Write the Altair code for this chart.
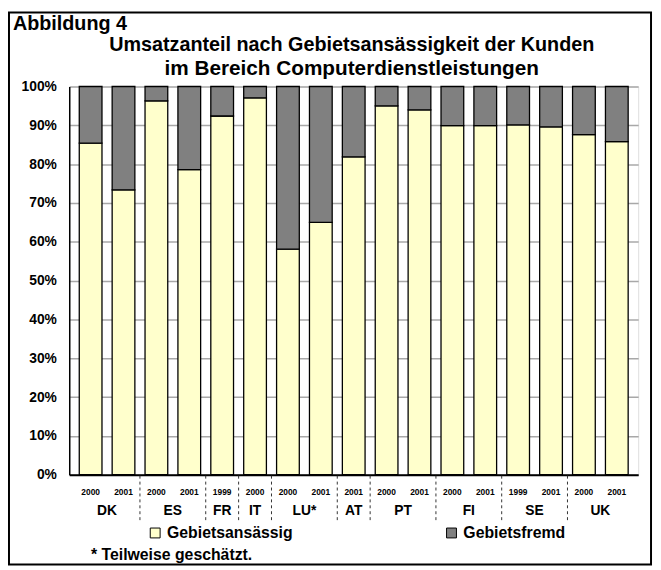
import altair as alt
import pandas as pd

countries = ["DK", "DK", "ES", "ES", "FR", "IT", "LU*", "LU*", "AT", "PT", "PT",
             "FI", "FI", "SE", "SE", "UK", "UK"]
years = ["2000", "2001", "2000", "2001", "1999", "2000", "2000", "2001", "2001",
         "2000", "2001", "2000", "2001", "1999", "2001", "2000", "2001"]
resident = [85.4, 73.4, 96.3, 78.6, 92.4, 97.1, 58.1, 65.0, 81.9, 95.0, 94.0,
            89.9, 89.9, 90.1, 89.6, 87.6, 85.8]
nonresident = [14.6, 26.6, 3.7, 21.4, 7.6, 2.9, 41.9, 35.0, 18.1, 5.0, 6.0,
               10.1, 10.1, 9.9, 10.4, 12.4, 14.2]
series = ["Gebietsansässig", "Gebietsfremd"]
colors = ["#FFFFCC", "#808080"]
y_ticks = [0, 10, 20, 30, 40, 50, 60, 70, 80, 90, 100]

FONT = "Liberation Sans"
W, H = 576, 393

idx = list(range(len(countries)))
rows = []
for i in idx:
    rows.append({"idx": i, "serie": series[0], "val": resident[i], "ord": 0})
    rows.append({"idx": i, "serie": series[1], "val": nonresident[i], "ord": 1})
bars_df = pd.DataFrame(rows)
years_df = pd.DataFrame({"idx": idx, "year": years})

# country group centers and separators
groups = []
for c in dict.fromkeys(countries):
    members = [i for i in idx if countries[i] == c]
    groups.append({"country": c, "center": sum(members) / len(members),
                   "last": max(members)})
groups_df = pd.DataFrame(groups)
seps_df = pd.DataFrame({"b": [g["last"] + 0.5 for g in groups[:-1]]})

xscale = alt.Scale(domain=[-0.5, len(countries) - 0.5], nice=False, zero=False)

bars = alt.Chart(bars_df).mark_bar(size=23, stroke="black", strokeWidth=1.3).encode(
    x=alt.X("idx:Q", scale=xscale,
            axis=alt.Axis(values=idx, labels=False, title=None, grid=False,
                          ticks=False, domainColor="black", domainWidth=2)),
    y=alt.Y("val:Q", stack="zero",
            scale=alt.Scale(domain=[0, 100], nice=False),
            axis=alt.Axis(values=y_ticks, labelExpr="datum.value + '%'",
                          title=None, ticks=False, labelPadding=13,
                          labelFont=FONT, labelFontSize=14,
                          labelFontWeight="bold", labelColor="black",
                          domainColor="black", domainWidth=1.5,
                          gridColor="#A8A8A8", gridWidth=1.5)),
    color=alt.Color("serie:N", scale=alt.Scale(domain=series, range=colors),
                    legend=alt.Legend(title=None, orient="none", legendX=79,
                                      legendY=444, direction="horizontal",
                                      columns=2, columnPadding=152,
                                      symbolType="square", symbolSize=100,
                                      symbolStrokeColor="black",
                                      symbolStrokeWidth=1,
                                      symbolOpacity=1,
                                      labelFont=FONT, labelFontSize=16,
                                      labelFontWeight="bold",
                                      labelColor="black", labelOffset=4)),
    order=alt.Order("ord:Q"),
)

year_labels = alt.Chart(years_df).mark_text(
    font=FONT, fontSize=8.5, fontWeight="bold", color="black", baseline="middle"
).encode(x=alt.X("idx:Q", scale=xscale), y=alt.value(411), text="year:N")

country_labels = alt.Chart(groups_df).mark_text(
    font=FONT, fontSize=14, fontWeight="bold", color="black", baseline="middle"
).encode(x=alt.X("center:Q", scale=xscale), y=alt.value(430), text="country:N")

seps = alt.Chart(seps_df).mark_rule(
    color="#333333", strokeWidth=1, strokeDash=[3, 3]
).encode(x=alt.X("b:Q", scale=xscale), y=alt.value(394), y2=alt.value(440))

def label(text, x, y, size, align="left"):
    return alt.Chart(pd.DataFrame({"t": [text]})).mark_text(
        font=FONT, fontSize=size, fontWeight="bold", color="black",
        align=align, baseline="alphabetic"
    ).encode(text="t:N", x=alt.value(x), y=alt.value(y))

fig_label = label("Abbildung 4", -57, -57, 20)
title1 = label("Umsatzanteil nach Gebietsansässigkeit der Kunden", 286, -36, 20, "center")
title2 = label("im Bereich Computerdienstleistungen", 286, -12, 21, "center")
footnote = label("* Teilweise geschätzt.", 22, 479, 16)

frame = alt.Chart(pd.DataFrame({"a": [0]})).mark_rect(
    fill=None, stroke="black", strokeWidth=2
).encode(x=alt.value(-61), x2=alt.value(589), y=alt.value(-75), y2=alt.value(484))

chart = alt.layer(
    bars, seps, year_labels, country_labels, fig_label, title1, title2,
    footnote, frame
).properties(
    width=W, height=H,
    autosize=alt.AutoSizeParams(type="none"),
    padding={"left": 62, "top": 76, "right": 15, "bottom": 93},
).configure_view(stroke=None).configure(background="white")

chart.save("out.html", embed_options={"renderer": "svg", "actions": False})
